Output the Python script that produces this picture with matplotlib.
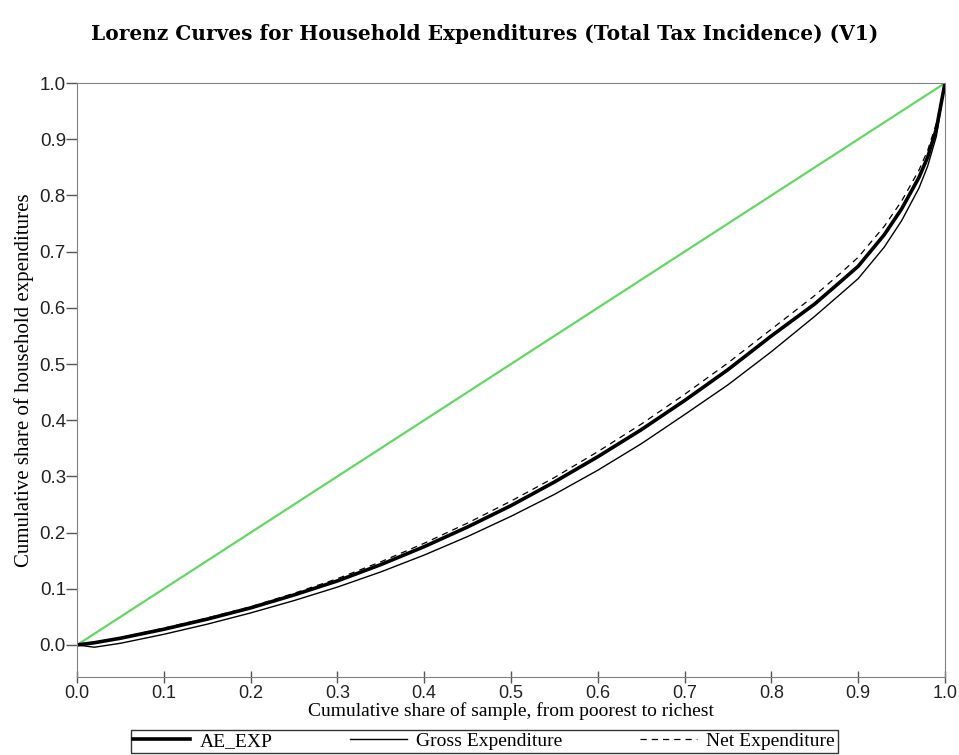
import numpy as np
import matplotlib
matplotlib.use("Agg")
import matplotlib.pyplot as plt

# cumulative share of sample (x) and cumulative share of expenditures (y)
share = [0.0, 0.02, 0.05, 0.1, 0.15, 0.2, 0.25, 0.3, 0.35, 0.4, 0.45, 0.5, 0.55, 0.6,
         0.65, 0.7, 0.75, 0.8, 0.85, 0.88, 0.9, 0.93, 0.95, 0.97, 0.98, 0.99, 1.0]
ae_exp = [0.0, 0.004, 0.012, 0.028, 0.046, 0.066, 0.089, 0.114, 0.143, 0.175, 0.21,
          0.248, 0.29, 0.335, 0.383, 0.435, 0.49, 0.55, 0.607, 0.647, 0.674, 0.73,
          0.776, 0.832, 0.868, 0.918, 1.0]
gross_exp = [0.0, -0.004, 0.003, 0.019, 0.037, 0.057, 0.079, 0.103, 0.13, 0.16, 0.193,
             0.229, 0.268, 0.311, 0.358, 0.41, 0.463, 0.522, 0.585, 0.625, 0.652, 0.708,
             0.755, 0.813, 0.852, 0.905, 1.0]
net_exp = [0.0, 0.005, 0.013, 0.03, 0.048, 0.068, 0.092, 0.118, 0.148, 0.181, 0.217,
           0.256, 0.298, 0.344, 0.393, 0.446, 0.502, 0.562, 0.622, 0.662, 0.69, 0.745,
           0.79, 0.845, 0.88, 0.928, 1.0]
equality = [0.0, 1.0]
ticks = [0.0, 0.1, 0.2, 0.3, 0.4, 0.5, 0.6, 0.7, 0.8, 0.9, 1.0]
tick_labels = ["0.0", "0.1", "0.2", "0.3", "0.4", "0.5", "0.6", "0.7", "0.8", "0.9", "1.0"]

serif = "Liberation Serif"
sans = "Liberation Sans"

fig = plt.figure(figsize=(9.59, 7.55), dpi=100)
ax = fig.add_axes([0.0803, 0.1033, 0.9051, 0.7867])

ax.plot(equality, equality, color="#62d862", lw=1.6)
ax.plot(share, gross_exp, color="black", lw=1.0, label="Gross Expenditure")
ax.plot(share, net_exp, color="black", lw=0.9, ls=(0, (5, 4)), label="Net Expenditure")
ax.plot(share, ae_exp, color="black", lw=2.6, label="AE_EXP")

ax.set_xlim(0, 1)
ax.set_ylim(-0.057, 1.0)
ax.set_xticks(ticks)
ax.set_yticks(ticks)
ax.set_xticklabels(tick_labels, fontfamily=sans, fontsize=13, color="#222222")
ax.set_yticklabels(tick_labels, fontfamily=sans, fontsize=13.5, color="#222222")
ax.tick_params(axis="x", direction="inout", length=8, width=1, color="#555555", pad=2)
ax.tick_params(axis="y", direction="out", length=8, width=1, color="#555555", pad=0)
for s in ax.spines.values():
    s.set_color("#808080")

ax.set_xlabel("Cumulative share of sample, from poorest to richest", fontfamily=serif,
              fontsize=14, labelpad=0)
ax.set_ylabel("Cumulative share of household expenditures", fontfamily=serif,
              fontsize=15, labelpad=4)

fig.text(0.505, 0.955, "Lorenz Curves for Household Expenditures (Total Tax Incidence) (V1)",
         ha="center", va="center", fontfamily="DejaVu Serif", fontweight="bold", fontsize=14.5)

handles, labels = ax.get_legend_handles_labels()
order = [2, 0, 1]
leg = fig.legend([handles[i] for i in order], [labels[i] for i in order],
                 loc="lower center", bbox_to_anchor=(0.505, 0.0), ncol=3,
                 frameon=True, fancybox=False, edgecolor="black", handlelength=2.9,
                 handletextpad=0.5, columnspacing=4.0, borderpad=0.15, borderaxespad=0.1,
                 prop={"family": serif, "size": 14})
leg.get_frame().set_linewidth(1.0)

fig.savefig("out.png", dpi=100)
